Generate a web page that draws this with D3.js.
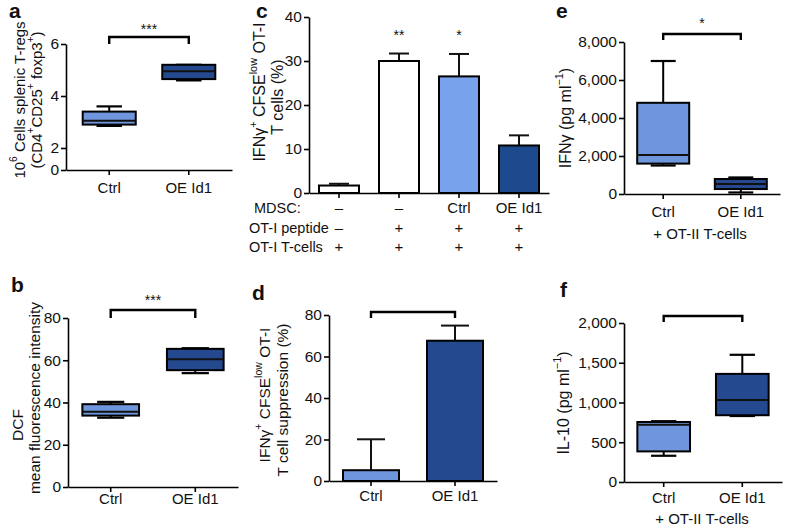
<!DOCTYPE html>
<html><head><meta charset="utf-8">
<script src="https://cdn.jsdelivr.net/npm/d3@7"></script>
<style>
html,body{margin:0;padding:0;background:#fff;}
svg{display:block;font-family:"Liberation Sans",Arial,Helvetica,sans-serif;}
</style></head>
<body>
<svg id="c" width="788" height="526"></svg>
<script>
// ---------------- DATA ----------------
const groups = ["Ctrl", "OE Id1"];
// box plots: [min, q1, median, q3, max]
const tregBox = [[2.85, 2.9, 3.05, 3.4, 3.6], [4.6, 4.65, 4.95, 5.2, 5.2]];
const tregTicks = [0, 2, 4, 6];
const dcfBox = [[32.8, 33.8, 35.6, 39.2, 40.3], [53.9, 55.3, 60.5, 65.4, 65.7]];
const dcfTicks = [0, 20, 40, 60, 80];
const ifnBox = [[1500, 1600, 2050, 4800, 7000], [80, 260, 520, 790, 870]];
const ifnTicks = [0, 2000, 4000, 6000, 8000];
const il10Box = [[330, 385, 720, 755, 765], [830, 840, 1030, 1360, 1600]];
const il10Ticks = [0, 500, 1000, 1500, 2000];
// bar charts
const cConditions = ["c1", "c2", "c3", "c4"];
const cMean = [1.7, 30.0, 26.5, 10.8];
const cErrTop = [2.1, 31.7, 31.6, 13.1];
const cStars = ["", "**", "*", ""];
const cTicks = [0, 10, 20, 30, 40];
const rowMDSC = ["–", "–", "Ctrl", "OE Id1"];
const rowPeptide = ["–", "+", "+", "+"];
const rowTcells = ["+", "+", "+", "+"];
const rowNames = ["MDSC:", "OT-I peptide", "OT-I T-cells"];
const dMean = [5.2, 67.6];
const dErrTop = [20.1, 74.9];
const dTicks = [0, 20, 40, 60, 80];

// ---------------- STYLE ----------------
const LIGHT = "#6f96dc", DARK = "#24498f", CLIGHT = "#78a3ec", CDARK = "#1c4a8c";
const svg = d3.select("#c");
const FS = 15, TFS = 15.5;

function fmt(d){ return d3.format(",")(d); }

function yAxis(g, y, x0, ticks){
  const ax = g.append("g").attr("transform", `translate(${x0},0)`)
    .call(d3.axisLeft(y).tickValues(ticks).tickFormat(fmt).tickSize(5).tickSizeOuter(0).tickPadding(2));
  ax.select(".domain").attr("stroke", "#000").attr("stroke-width", 1.6);
  ax.selectAll(".tick line").attr("stroke", "#000").attr("stroke-width", 1.6);
  ax.selectAll("text").attr("font-size", TFS).attr("font-family", "Liberation Sans, Arial, sans-serif").attr("fill", "#111");
  ax.attr("font-size", null).attr("font-family", null);
}
function xAxis(g, x, y0, labels, pad){
  const ax = g.append("g").attr("transform", `translate(0,${y0})`)
    .call(d3.axisBottom(x).tickSize(5).tickSizeOuter(0).tickPadding(pad).tickFormat((d,i)=>labels ? labels[i] : ""));
  ax.select(".domain").attr("stroke", "#000").attr("stroke-width", 1.6);
  ax.selectAll(".tick line").attr("stroke", "#000").attr("stroke-width", 1.6);
  ax.selectAll("text").attr("font-size", FS).attr("font-family", "Liberation Sans, Arial, sans-serif").attr("fill", "#111");
  ax.attr("font-size", null).attr("font-family", null);
}
// rotated title lines; segs: array of [text, kind] kind: 0 normal, 1 sup
function yTitle(g, cx, cy, segs, fs){
  const t = g.append("text").attr("transform", `translate(${cx},${cy}) rotate(-90)`)
    .attr("text-anchor", "middle").attr("dominant-baseline", "central")
    .attr("font-size", fs).attr("fill", "#111");
  segs.forEach(s => {
    const sp = t.append("tspan").text(s[0]);
    if (s[1] === 1) sp.attr("font-size", fs*0.68).attr("baseline-shift", "super");
  });
}
function letter(x, y, s){
  svg.append("text").attr("x", x).attr("y", y).attr("font-size", 21).attr("font-weight", "bold").attr("fill", "#111").text(s);
}
function bracket(g, x1, x2, yTop, yLeg, stars, starY){
  g.append("path").attr("d", `M${x1},${yLeg}V${yTop}H${x2}V${yLeg}`)
    .attr("fill", "none").attr("stroke", "#000").attr("stroke-width", 2.4);
  if (stars) g.append("text").attr("x", (x1+x2)/2).attr("y", starY).attr("text-anchor", "middle")
    .attr("font-size", 14).attr("fill", "#111").text(stars);
}
function boxes(g, x, y, data, colors){
  const bw = x.bandwidth();
  data.forEach((q, i) => {
    const x0 = x(groups[i]), cx = x0 + bw/2, cw = bw*0.48;
    g.append("line").attr("x1", cx).attr("x2", cx).attr("y1", y(q[4])).attr("y2", y(q[3])).attr("stroke", "#000").attr("stroke-width", 2);
    g.append("line").attr("x1", cx).attr("x2", cx).attr("y1", y(q[0])).attr("y2", y(q[1])).attr("stroke", "#000").attr("stroke-width", 2);
    g.append("line").attr("x1", cx-cw/2).attr("x2", cx+cw/2).attr("y1", y(q[4])).attr("y2", y(q[4])).attr("stroke", "#000").attr("stroke-width", 2.2);
    g.append("line").attr("x1", cx-cw/2).attr("x2", cx+cw/2).attr("y1", y(q[0])).attr("y2", y(q[0])).attr("stroke", "#000").attr("stroke-width", 2.2);
    g.append("rect").attr("x", x0).attr("y", y(q[3])).attr("width", bw).attr("height", y(q[1]) - y(q[3]))
      .attr("fill", colors[i]).attr("stroke", "#000").attr("stroke-width", 2);
    g.append("line").attr("x1", x0).attr("x2", x0+bw).attr("y1", y(q[2])).attr("y2", y(q[2])).attr("stroke", "#111").attr("stroke-width", 2);
  });
}
function bars(g, x, y, cats, mean, err, colors, capW){
  const bw = x.bandwidth();
  cats.forEach((c, i) => {
    const x0 = x(c), cx = x0 + bw/2;
    g.append("line").attr("x1", cx).attr("x2", cx).attr("y1", y(err[i])).attr("y2", y(mean[i])).attr("stroke", "#111").attr("stroke-width", 2);
    g.append("line").attr("x1", cx-capW/2).attr("x2", cx+capW/2).attr("y1", y(err[i])).attr("y2", y(err[i])).attr("stroke", "#111").attr("stroke-width", 2);
    g.append("rect").attr("x", x0).attr("y", y(mean[i])).attr("width", bw).attr("height", y(0) - y(mean[i]))
      .attr("fill", colors[i]).attr("stroke", "#000").attr("stroke-width", 2);
  });
}
function band(r0, r1, n, pi, po){ return d3.scaleBand().domain(n).range([r0, r1]).paddingInner(pi).paddingOuter(po); }

// ---------------- PANEL a ----------------
{
  const g = svg.append("g");
  // axis in the reference is compressed between 0 and 2
  const y = d3.scaleLinear().domain([0, 2, 6]).range([170, 148, 44]);
  const x = band(66, 232, groups, 1/3, 0.21);
  boxes(g, x, y, tregBox, [LIGHT, DARK]);
  yAxis(g, y, 66, tregTicks);
  xAxis(g, x, 170, groups, 7.7);
  const c = x.bandwidth()/2;
  bracket(g, x(groups[0])+c, x(groups[1])+c, 37, 44, "***", 34);
  yTitle(g, 19, 100, [["10"],["6",1],[" Cells splenic T-regs"]], 15);
  yTitle(g, 36, 100, [["(CD4"],["+",1],["CD25"],["+",1],[" foxp3"],["+",1],[")"]], 15);
  letter(9, 18, "a");
}
// ---------------- PANEL b ----------------
{
  const g = svg.append("g");
  const y = d3.scaleLinear().domain([0, 80]).range([487, 318]);
  const x = band(68, 238, groups, 0.33, 0.17);
  boxes(g, x, y, dcfBox, [LIGHT, DARK]);
  yAxis(g, y, 68, dcfTicks);
  xAxis(g, x, 487, groups, 1.5);
  const c = x.bandwidth()/2;
  bracket(g, x(groups[0])+c, x(groups[1])+c, 310, 318, "***", 305);
  yTitle(g, 17, 425, [["DCF"]], 15.5);
  yTitle(g, 34, 398, [["mean fluorescence intensity"]], 15.5);
  letter(11, 292, "b");
}
// ---------------- PANEL c ----------------
{
  const g = svg.append("g");
  const y = d3.scaleLinear().domain([0, 40]).range([193, 17]);
  const x = d3.scaleBand().domain(cConditions).range([309, 549]).paddingInner(1/3).paddingOuter(1/6);
  bars(g, x, y, cConditions, cMean, cErrTop, ["#fff", "#fff", CLIGHT, CDARK], 20);
  yAxis(g, y, 309, cTicks);
  xAxis(g, x, 193, null, 0);
  const bw = x.bandwidth();
  const rowY = [212.5, 232.5, 251.5];
  cConditions.forEach((cnd, i) => {
    const cx = x(cnd) + bw/2;
    if (cStars[i]) g.append("text").attr("x", cx).attr("y", 40).attr("text-anchor", "middle").attr("font-size", 14).attr("fill", "#111").text(cStars[i]);
    [rowMDSC, rowPeptide, rowTcells].forEach((row, r) => {
      g.append("text").attr("x", cx).attr("y", rowY[r]).attr("text-anchor", "middle").attr("font-size", FS).attr("fill", "#111").text(row[i]);
    });
  });
  rowNames.forEach((n, r) => {
    g.append("text").attr("x", [254, 249, 249][r]).attr("y", rowY[r]).attr("font-size", 14.5).attr("fill", "#111").text(n);
  });
  yTitle(g, 259, 92, [["IFNγ"],["+",1],[" CFSE"],["low",1],[" OT-I"]], 16);
  yTitle(g, 277, 97, [["T cells (%)"]], 16);
  letter(256, 18, "c");
}
// ---------------- PANEL d ----------------
{
  const g = svg.append("g");
  const y = d3.scaleLinear().domain([0, 80]).range([481, 315]);
  const x = d3.scaleBand().domain(groups).range([329, 497]).paddingInner(1/3).paddingOuter(1/6);
  bars(g, x, y, groups, dMean, dErrTop, [LIGHT, DARK], 28);
  yAxis(g, y, 329, dTicks);
  xAxis(g, x, 481, groups, 4.75);
  const c = x.bandwidth()/2;
  bracket(g, x(groups[0])+c, x(groups[1])+c, 312, 318, "", 0);
  yTitle(g, 264, 395, [["IFNγ"],["+",1],[" CFSE"],["low",1],[" OT-I"]], 15.5);
  yTitle(g, 282, 400, [["T cell suppression (%)"]], 15.5);
  letter(252, 300, "d");
}
// ---------------- PANEL e ----------------
{
  const g = svg.append("g");
  const y = d3.scaleLinear().domain([0, 8000]).range([194, 42]);
  const x = band(624, 780, groups, 0.33, 0.17);
  boxes(g, x, y, ifnBox, [LIGHT, DARK]);
  yAxis(g, y, 624, ifnTicks);
  xAxis(g, x, 194, groups, 7.7);
  const c = x.bandwidth()/2;
  bracket(g, x(groups[0])+c, x(groups[1])+c, 34, 40, "*", 28);
  yTitle(g, 565, 118, [["IFNγ (pg ml"],["−1",1],[")"]], 16);
  g.append("text").attr("x", 700).attr("y", 238.5).attr("text-anchor", "middle").attr("font-size", FS).attr("fill", "#111").text("+ OT-II T-cells");
  letter(556, 18, "e");
}
// ---------------- PANEL f ----------------
{
  const g = svg.append("g");
  const y = d3.scaleLinear().domain([0, 2000]).range([482, 323]);
  const x = band(624, 782, groups, 0.33, 0.17);
  boxes(g, x, y, il10Box, [LIGHT, DARK]);
  yAxis(g, y, 624, il10Ticks);
  xAxis(g, x, 482, groups, 5.75);
  const c = x.bandwidth()/2;
  bracket(g, x(groups[0])+c, x(groups[1])+c, 316, 322, "", 0);
  yTitle(g, 563, 403, [["IL-10 (pg ml"],["−1",1],[")"]], 16);
  g.append("text").attr("x", 702).attr("y", 524).attr("text-anchor", "middle").attr("font-size", FS).attr("fill", "#111").text("+ OT-II T-cells");
  letter(560, 297, "f");
}
</script>
</body></html>
